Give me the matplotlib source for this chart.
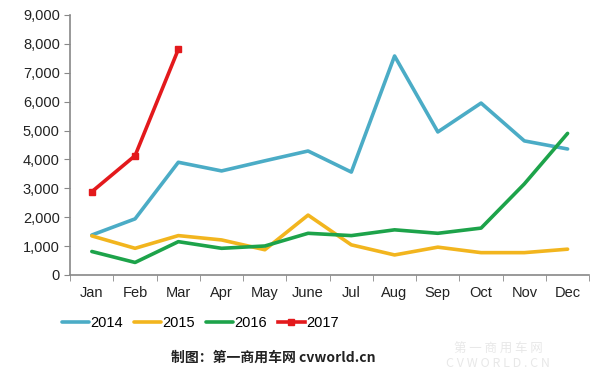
import matplotlib
matplotlib.use("Agg")
import matplotlib.pyplot as plt
from matplotlib.ticker import FuncFormatter, FixedLocator

months = ["Jan", "Feb", "Mar", "Apr", "May", "June", "Jul", "Aug", "Sep", "Oct", "Nov", "Dec"]
sales_2014 = [1380, 1940, 3900, 3600, 3950, 4290, 3560, 7580, 4950, 5950, 4640, 4360]
sales_2015 = [1350, 920, 1360, 1210, 870, 2070, 1040, 690, 960, 770, 770, 890]
sales_2016 = [810, 430, 1150, 920, 1000, 1440, 1360, 1560, 1440, 1620, 3150, 4900]
sales_2017 = [2880, 4130, 7810]

plt.rcParams["font.family"] = ["Liberation Sans", "DejaVu Sans"]

fig = plt.figure(figsize=(6.0, 3.75), dpi=100)
ax = fig.add_axes([0.117, 0.267, 0.865, 0.693])

x = list(range(len(months)))
ax.plot(x, sales_2014, color="#4BACC6", lw=2.6, label="2014", solid_capstyle="round")
ax.plot(x, sales_2015, color="#F2B51E", lw=2.6, label="2015", solid_capstyle="round")
ax.plot(x, sales_2016, color="#1DA34A", lw=2.6, label="2016", solid_capstyle="round")
ax.plot(x[:len(sales_2017)], sales_2017, color="#E3191C", lw=2.6, marker="s",
        markersize=5, label="2017")

ax.set_xlim(-0.5, 11.5)
ax.set_ylim(0, 9000)
ax.set_yticks(range(0, 9001, 1000))
ax.yaxis.set_major_formatter(FuncFormatter(lambda v, p: f"{int(v):,}"))
ax.set_xticks(x)
ax.set_xticklabels(months)
ax.xaxis.set_minor_locator(FixedLocator([i - 0.5 for i in range(13)]))
ax.tick_params(axis="x", which="major", length=0, pad=8, labelsize=10.5, colors="#222222")
ax.tick_params(axis="x", which="minor", length=4, color="#888888", direction="out")
ax.tick_params(axis="y", length=4, color="#888888", labelsize=10.5, colors="#222222")

for side in ["top", "right"]:
    ax.spines[side].set_visible(False)
for side in ["left", "bottom"]:
    ax.spines[side].set_color("#888888")
    ax.spines[side].set_linewidth(1.2)

ax.legend(loc="center left", bbox_to_anchor=(-0.042, -0.185), ncol=4, frameon=False,
          fontsize=10.5, handlelength=1.9, handletextpad=0.1, columnspacing=0.7)

fig.text(0.455, 0.045, "制图：第一商用车网 cvworld.cn", ha="center", va="center",
         fontsize=10, fontweight="bold", family=["Noto Sans CJK SC", "DejaVu Sans"],
         color="#222222")
fig.text(0.83, 0.05, "第 一 商 用 车 网\nC V W O R L D . C N", ha="center", va="center",
         fontsize=9, family=["Noto Sans CJK SC", "DejaVu Sans"], color="#e8e8e8",
         linespacing=1.1)

fig.savefig("out.png", dpi=100)
